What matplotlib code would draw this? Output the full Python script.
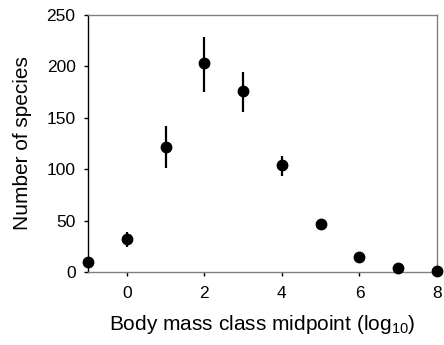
import matplotlib
matplotlib.use('Agg')
import matplotlib.pyplot as plt

# body mass class midpoints (log10) and species counts
mass_class = [-1, 0, 1, 2, 3, 4, 5, 6, 7, 8]
n_species = [10, 32, 122, 203, 176, 104, 47, 15, 4, 1]
err_low = [0, 8, 21, 28, 20, 11, 0, 0, 0, 0]
err_high = [0, 7, 20, 26, 19, 9, 0, 0, 0, 0]

x_ticks = [0, 2, 4, 6, 8]
y_ticks = [0, 50, 100, 150, 200, 250]

plt.rcParams['font.family'] = ['Liberation Sans', 'DejaVu Sans']
plt.rcParams['mathtext.fontset'] = 'custom'
plt.rcParams['mathtext.rm'] = 'Liberation Sans'

fig = plt.figure(figsize=[4.44, 3.45], dpi=100)
ax = fig.add_axes([88 / 444, 1 - 272 / 345, (437 - 88) / 444, (272 - 15) / 345])

ax.errorbar(mass_class, n_species, yerr=[err_low, err_high], fmt='o',
            color='black', markersize=7.5, elinewidth=1.6, capsize=0,
            clip_on=False, zorder=3)

ax.set_xlim(-1, 8)
ax.set_ylim(0, 250)
ax.set_xticks(x_ticks)
ax.set_yticks(y_ticks)
ax.tick_params(direction='out', length=3, width=1, labelsize=12.5)
ax.tick_params(axis='x', pad=7)
ax.tick_params(axis='y', pad=6)

ax.spines['left'].set_color('black')
for s in ['bottom', 'top', 'right']:
    ax.spines[s].set_color('#808080')
for s in ax.spines.values():
    s.set_linewidth(1)

ax.set_xlabel('Body mass class midpoint (log$_\\mathrm{10}$)', fontsize=15, labelpad=9)
ax.set_ylabel('Number of species', fontsize=15, labelpad=10)

plt.savefig('out.png', dpi=100)
